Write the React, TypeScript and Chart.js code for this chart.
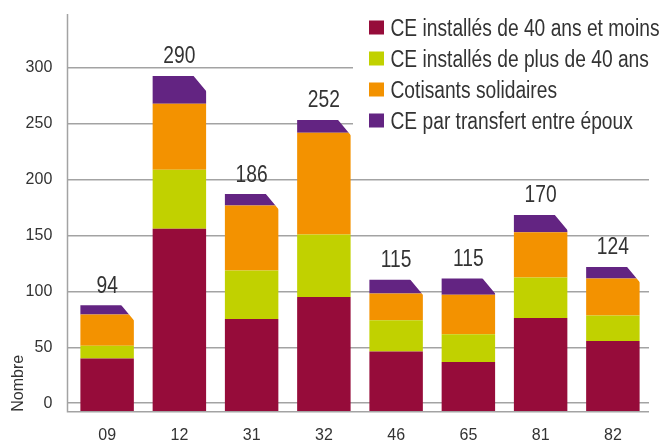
import React, { useEffect, useRef } from 'react';
import { Chart, registerables } from 'chart.js';

Chart.register(...registerables);

const categories = ['09', '12', '31', '32', '46', '65', '81', '82'];
const seriesNames = [
  'CE installés de 40 ans et moins',
  'CE installés de plus de 40 ans',
  'Cotisants solidaires',
  'CE par transfert entre époux',
];
const under40 = [46, 158, 80, 99, 52, 43, 81, 61];
const over40 = [11, 51, 42, 54, 27, 24, 35, 22];
const solidaires = [27, 57, 56, 88, 23, 34, 39, 32];
const transfert = [8, 24, 10, 11, 12, 14, 15, 10];
const totals = [94, 290, 186, 252, 115, 115, 170, 124];
const yTicks = [0, 50, 100, 150, 200, 250, 300];
const colors = ['#960c3a', '#c1d100', '#f39200', '#632482'];

const FONT = "'Liberation Sans', Arial, sans-serif";
const TEXT = '#333333';
const GRID = '#a3a3a3';
const NARROW = 0.835;

function drawNarrow(ctx: CanvasRenderingContext2D, text: string, x: number, y: number, align: CanvasTextAlign) {
  ctx.save();
  ctx.translate(x, y);
  ctx.scale(NARROW, 1);
  ctx.textAlign = align;
  ctx.textBaseline = 'alphabetic';
  ctx.fillText(text, 0, 0);
  ctx.restore();
}

const cornerCut = {
  id: 'cornerCut',
  beforeDatasetsDraw(chart: any) {
    const ctx = chart.ctx;
    const meta = chart.getDatasetMeta(chart.data.datasets.length - 1);
    ctx.save();
    ctx.beginPath();
    ctx.rect(0, 0, chart.width, chart.height);
    const cw = 12.5;
    const chh = 15;
    meta.data.forEach((el: any) => {
      const { x, y, width } = el.getProps(['x', 'y', 'width'], true);
      const r = x + width / 2;
      ctx.moveTo(r - cw - (5 * cw) / chh, y - 5);
      ctx.lineTo(r + 5, y - 5);
      ctx.lineTo(r + 5, y + chh + (5 * chh) / cw);
      ctx.closePath();
    });
    ctx.clip('evenodd');
  },
  afterDatasetsDraw(chart: any) {
    const ctx = chart.ctx;
    ctx.restore();
    const { left, right, top, bottom } = chart.chartArea;
    ctx.save();
    ctx.strokeStyle = GRID;
    ctx.lineWidth = 1.5;
    ctx.beginPath();
    ctx.moveTo(left - 3.5, top);
    ctx.lineTo(left - 3.5, bottom);
    ctx.lineTo(right, bottom);
    ctx.stroke();
    const meta = chart.getDatasetMeta(chart.data.datasets.length - 1);
    ctx.fillStyle = TEXT;
    ctx.font = `23px ${FONT}`;
    meta.data.forEach((el: any, i: number) => {
      const { x, y } = el.getProps(['x', 'y'], true);
      drawNarrow(ctx, String(totals[i]), x, y - 12.5, 'center');
    });
    ctx.restore();
  },
};

const legendBox = {
  id: 'legendBox',
  afterDraw(chart: any) {
    const ctx = chart.ctx;
    ctx.save();
    ctx.fillStyle = '#ffffff';
    ctx.fillRect(353, 0, chart.width - 353, 140);
    ctx.font = `23px ${FONT}`;
    seriesNames.forEach((name, i) => {
      const base = 36 + i * 31;
      ctx.fillStyle = colors[i];
      ctx.fillRect(369, base - 15.5, 15, 14);
      ctx.fillStyle = TEXT;
      drawNarrow(ctx, name, 390.5, base, 'left');
    });
    ctx.restore();
  },
};

export default function App() {
  const ref = useRef<HTMLCanvasElement>(null);
  useEffect(() => {
    document.body.style.margin = '0';
    const series = [under40, over40, solidaires, transfert];
    const chart = new Chart(ref.current!, {
      type: 'bar',
      data: {
        labels: categories,
        datasets: series.map((d, i) => ({
          label: seriesNames[i],
          data: d,
          backgroundColor: colors[i],
          borderWidth: 0,
          yAxisID: 'yb',
          barPercentage: 0.74,
          categoryPercentage: 1,
        })),
      },
      options: {
        animation: false,
        responsive: false,
        devicePixelRatio: 1,
        layout: { padding: { top: 14, right: 12, bottom: 0, left: 0 } },
        plugins: { legend: { display: false }, tooltip: { enabled: false } },
        scales: {
          x: {
            stacked: true,
            grid: { display: false },
            border: { display: false },
            ticks: { color: TEXT, font: { family: FONT, size: 16 }, padding: 6 },
            afterFit: (s: any) => {
              s.height = 33.3;
              s.paddingLeft = 0;
              s.paddingRight = 0;
            },
          },
          y: {
            position: 'left',
            min: -7.6,
            max: 348.3,
            afterBuildTicks: (s: any) => { s.ticks = yTicks.map((v) => ({ value: v })); },
            grid: { color: GRID, lineWidth: 1.5, drawTicks: true, tickLength: 4 },
            border: { display: false },
            ticks: { color: TEXT, font: { family: FONT, size: 16 }, padding: 14.7 },
            title: {
              display: true,
              text: 'Nombre',
              align: 'start',
              color: TEXT,
              font: { family: FONT, size: 16 },
              padding: { top: 8.5, bottom: 0 },
            },
            afterFit: (s: any) => {
              s.width = 71;
              s.paddingTop = 0;
              s.paddingBottom = 0;
            },
          },
          yb: {
            display: false,
            stacked: true,
            min: 0,
            max: 343.5,
          },
        },
      },
      plugins: [cornerCut, legendBox],
    });
    return () => chart.destroy();
  }, []);
  return <canvas ref={ref} width={661} height={445} style={{ display: 'block' }} />;
}
